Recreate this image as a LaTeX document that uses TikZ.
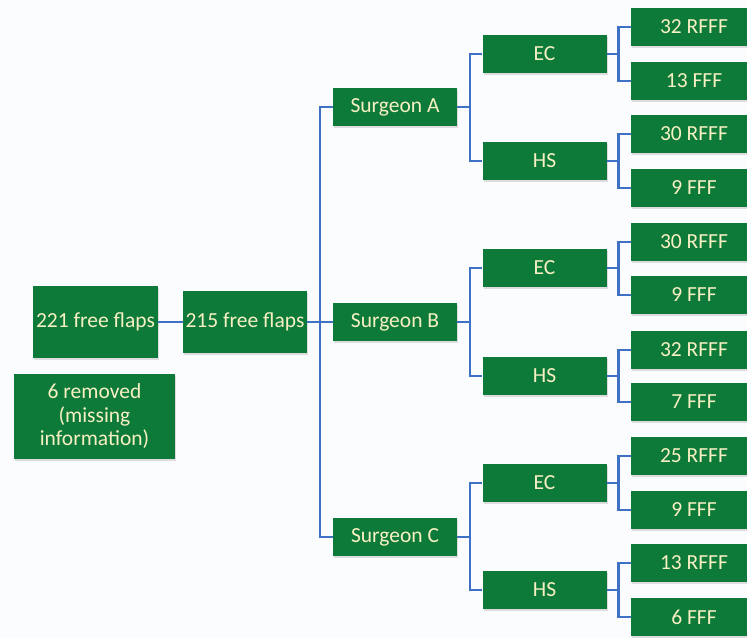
\documentclass[tikz,border=0pt]{standalone}
\usepackage{fontspec}
\setmainfont{Carlito}
\usetikzlibrary{shadows}
\definecolor{boxgreen}{RGB}{14,122,58}
\definecolor{boxtext}{RGB}{247,240,195}
\definecolor{linkblue}{RGB}{62,112,196}
\definecolor{pagebg}{RGB}{251,252,254}
\begin{document}
\begin{tikzpicture}[x=1pt,y=-1pt,
  gbox/.style={fill=boxgreen, text=boxtext, inner sep=0pt, minimum width=124pt,
    minimum height=38pt, font=\fontsize{21.5}{23.5}\selectfont, align=center,
    drop shadow={opacity=0.25, shadow xshift=1pt, shadow yshift=-1.8pt}},
  leaf/.style={gbox, minimum width=126pt},
  link/.style={draw=linkblue, line width=2.6pt}]
\fill[pagebg] (0,0) rectangle (747,638);
\useasboundingbox (0,0) rectangle (747,638);

% left column
\node[gbox, minimum width=125pt, minimum height=72pt] (f221) at (95.5,322) {221 free flaps};
\node[gbox, minimum height=62pt] (f215) at (245,322) {215 free flaps};
\node[gbox, minimum width=161pt, minimum height=85pt] (rem) at (94.5,416.5) {6 removed\\(missing\\information)};

% surgeons
\node[gbox] (sA) at (395,107) {Surgeon A};
\node[gbox] (sB) at (395,322) {Surgeon B};
\node[gbox] (sC) at (395,537) {Surgeon C};

% EC / HS
\node[gbox] (ecA) at (544.5,54) {EC};
\node[gbox] (hsA) at (544.5,161) {HS};
\node[gbox] (ecB) at (544.5,268) {EC};
\node[gbox] (hsB) at (544.5,376) {HS};
\node[gbox] (ecC) at (544.5,483) {EC};
\node[gbox] (hsC) at (544.5,590) {HS};

% leaves
\node[leaf] (l1) at (694,27) {32 RFFF};
\node[leaf] (l2) at (694,81) {13 FFF};
\node[leaf] (l3) at (694,134) {30 RFFF};
\node[leaf] (l4) at (694,188) {9 FFF};
\node[leaf] (l5) at (694,242) {30 RFFF};
\node[leaf] (l6) at (694,295) {9 FFF};
\node[leaf] (l7) at (694,350) {32 RFFF};
\node[leaf] (l8) at (694,402) {7 FFF};
\node[leaf] (l9) at (694,456) {25 RFFF};
\node[leaf] (l10) at (694,510) {9 FFF};
\node[leaf] (l11) at (694,563) {13 RFFF};
\node[leaf] (l12) at (694,617) {6 FFF};

% connectors
\draw[link] (f221) -- (f215);
\draw[link] (f215) -- (sB);
\draw[link] (sA.west) -- ++(-13,0) |- (sC.west);

\foreach \s/\e/\h in {sA/ecA/hsA, sB/ecB/hsB, sC/ecC/hsC}{
  \draw[link] (\s.east) -- ++(12.5,0);
  \draw[link] (\e.west) -- ++(-12.5,0) |- (\h.west);
}
\foreach \p/\a/\b in {ecA/l1/l2, hsA/l3/l4, ecB/l5/l6, hsB/l7/l8, ecC/l9/l10, hsC/l11/l12}{
  \draw[link] (\p.east) -- ++(12.5,0);
  \draw[link] (\a.west) -- ++(-12.5,0) |- (\b.west);
}
\end{tikzpicture}
\end{document}
